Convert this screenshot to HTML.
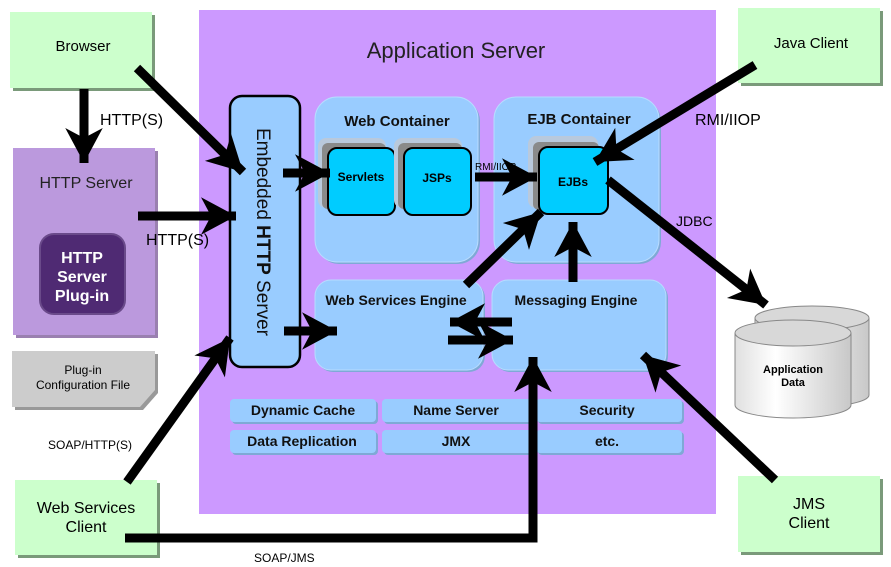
<!DOCTYPE html>
<html><head><meta charset="utf-8"><style>
body{margin:0;background:#fff;}
svg{display:block;font-family:"Liberation Sans",sans-serif;}
</style></head><body>
<svg width="891" height="567" viewBox="0 0 891 567" xmlns="http://www.w3.org/2000/svg">
<defs>
<marker id="ah" markerUnits="userSpaceOnUse" markerWidth="40" markerHeight="40" viewBox="-30 -16 32 32" refX="0" refY="0" orient="auto">
<path d="M0,0 L-28,-15 L-20,0 L-28,15 Z" fill="#000"/>
</marker>
<linearGradient id="cyl" x1="0" x2="1" y1="0" y2="0">
<stop offset="0" stop-color="#e0e0e0"/><stop offset="0.35" stop-color="#ffffff"/><stop offset="1" stop-color="#c8c8c8"/>
</linearGradient>
</defs>
<!-- Application server -->
<rect x="199" y="10" width="517" height="504" fill="#cc99ff"/>
<text x="456" y="58" font-size="22" text-anchor="middle" fill="#222">Application Server</text>

<!-- left boxes -->
<rect x="13" y="15" width="142" height="76" fill="#7a9a7a"/>
<rect x="10" y="12" width="142" height="76" fill="#ccffcc"/>
<text x="83" y="51" font-size="15" text-anchor="middle">Browser</text>

<rect x="16" y="151" width="142" height="187" fill="#9a80b0"/>
<rect x="13" y="148" width="142" height="187" fill="#bb99dd"/>
<text x="86" y="188" font-size="16" text-anchor="middle" fill="#222">HTTP Server</text>
<rect x="40" y="234" width="85" height="80" rx="14" fill="#4f2a73" stroke="#6a4a8a" stroke-width="2"/>
<text x="82" y="263" font-size="16" font-weight="bold" text-anchor="middle" fill="#fff">HTTP</text>
<text x="82" y="282" font-size="16" font-weight="bold" text-anchor="middle" fill="#fff">Server</text>
<text x="82" y="301" font-size="16" font-weight="bold" text-anchor="middle" fill="#fff">Plug-in</text>

<path d="M15,354 H158 V393 L143,410 H15 Z" fill="#999"/>
<path d="M12,351 H155 V390 L140,407 H12 Z" fill="#cccccc"/>
<text x="83" y="374" font-size="12" text-anchor="middle">Plug-in</text>
<text x="83" y="389" font-size="12" text-anchor="middle">Configuration File</text>

<rect x="18" y="483" width="142" height="75" fill="#7a9a7a"/>
<rect x="15" y="480" width="142" height="75" fill="#ccffcc"/>
<text x="86" y="513" font-size="16" text-anchor="middle">Web Services</text>
<text x="86" y="532" font-size="16" text-anchor="middle">Client</text>

<rect x="741" y="11" width="142" height="75" fill="#7a9a7a"/>
<rect x="738" y="8" width="142" height="75" fill="#ccffcc"/>
<text x="811" y="48" font-size="15" text-anchor="middle">Java Client</text>

<rect x="741" y="479" width="142" height="76" fill="#7a9a7a"/>
<rect x="738" y="476" width="142" height="76" fill="#ccffcc"/>
<text x="809" y="509" font-size="16" text-anchor="middle">JMS</text>
<text x="809" y="528" font-size="16" text-anchor="middle">Client</text>

<!-- Embedded HTTP server -->
<rect x="230" y="96" width="70" height="271" rx="12" fill="#99ccff" stroke="#000" stroke-width="2.5"/>
<text transform="translate(257,232) rotate(90)" font-size="19" text-anchor="middle" fill="#111">Embedded <tspan font-weight="bold">HTTP</tspan> Server</text>

<!-- containers -->
<rect x="317" y="99" width="163" height="165" rx="22" fill="#7fa9d6"/>
<rect x="315" y="97" width="163" height="165" rx="22" fill="#99ccff" stroke="#b8dcff"/>
<text x="397" y="126" font-size="15" font-weight="bold" text-anchor="middle" fill="#111">Web Container</text>
<rect x="496" y="99" width="165" height="165" rx="22" fill="#7fa9d6"/>
<rect x="494" y="97" width="165" height="165" rx="22" fill="#99ccff" stroke="#b8dcff"/>
<text x="579" y="124" font-size="15" font-weight="bold" text-anchor="middle" fill="#111">EJB Container</text>

<rect x="318" y="138" width="68" height="70" rx="8" fill="#b9c9dc"/>
<rect x="322" y="143" width="64" height="66" rx="6" fill="#8a8a8a"/>
<rect x="328" y="148" width="67" height="67" rx="9" fill="#00ccff" stroke="#000" stroke-width="2"/>
<text x="361" y="181" font-size="12" font-weight="bold" text-anchor="middle">Servlets</text>
<rect x="394" y="138" width="68" height="70" rx="8" fill="#b9c9dc"/>
<rect x="398" y="143" width="64" height="66" rx="6" fill="#8a8a8a"/>
<rect x="404" y="148" width="67" height="67" rx="9" fill="#00ccff" stroke="#000" stroke-width="2"/>
<text x="437" y="182" font-size="12" font-weight="bold" text-anchor="middle">JSPs</text>
<rect x="528" y="136" width="70" height="72" rx="8" fill="#b9c9dc"/>
<rect x="533" y="142" width="66" height="68" rx="6" fill="#8a8a8a"/>
<rect x="539" y="147" width="69" height="67" rx="9" fill="#00ccff" stroke="#000" stroke-width="2"/>
<text x="573" y="186" font-size="12" font-weight="bold" text-anchor="middle">EJBs</text>

<!-- engines -->
<rect x="317" y="282" width="168" height="90" rx="16" fill="#7fa9d6"/>
<rect x="315" y="280" width="168" height="90" rx="16" fill="#99ccff" stroke="#b8dcff"/>
<text x="396" y="305" font-size="14" font-weight="bold" text-anchor="middle" fill="#111">Web Services Engine</text>
<rect x="494" y="282" width="174" height="90" rx="16" fill="#7fa9d6"/>
<rect x="492" y="280" width="174" height="90" rx="16" fill="#99ccff" stroke="#b8dcff"/>
<text x="576" y="305" font-size="14" font-weight="bold" text-anchor="middle" fill="#111">Messaging Engine</text>

<!-- services -->
<g font-size="14" font-weight="bold" text-anchor="middle" fill="#111">
<rect x="232" y="401" width="146" height="23" rx="4" fill="#7fa9d6"/><rect x="230" y="399" width="146" height="23" rx="4" fill="#99ccff"/><text x="303" y="415">Dynamic Cache</text>
<rect x="384" y="401" width="151" height="23" rx="4" fill="#7fa9d6"/><rect x="382" y="399" width="151" height="23" rx="4" fill="#99ccff"/><text x="456" y="415">Name Server</text>
<rect x="538" y="401" width="146" height="23" rx="4" fill="#7fa9d6"/><rect x="536" y="399" width="146" height="23" rx="4" fill="#99ccff"/><text x="607" y="415">Security</text>
<rect x="232" y="432" width="146" height="23" rx="4" fill="#7fa9d6"/><rect x="230" y="430" width="146" height="23" rx="4" fill="#99ccff"/><text x="302" y="446">Data Replication</text>
<rect x="384" y="432" width="151" height="23" rx="4" fill="#7fa9d6"/><rect x="382" y="430" width="151" height="23" rx="4" fill="#99ccff"/><text x="456" y="446">JMX</text>
<rect x="538" y="432" width="146" height="23" rx="4" fill="#7fa9d6"/><rect x="536" y="430" width="146" height="23" rx="4" fill="#99ccff"/><text x="607" y="446">etc.</text>
</g>

<!-- database -->
<g stroke="#888" stroke-width="1">
<path d="M755,318 V395 A57,12 0 0 0 869,395 V318" fill="url(#cyl)"/>
<ellipse cx="812" cy="318" rx="57" ry="12" fill="#d8d8d8"/>
<path d="M735,333 V405 A58,13 0 0 0 851,405 V333" fill="url(#cyl)"/>
<ellipse cx="793" cy="333" rx="58" ry="13" fill="#d8d8d8"/>
</g>
<text x="793" y="373" font-size="11" font-weight="bold" text-anchor="middle">Application</text>
<text x="793" y="386" font-size="11" font-weight="bold" text-anchor="middle">Data</text>

<!-- arrows -->
<g stroke="#000" stroke-width="9" fill="none" marker-end="url(#ah)">
<line x1="84" y1="89" x2="84" y2="163"/>
<line x1="137" y1="68" x2="243" y2="172"/>
<line x1="138" y1="216" x2="236" y2="216"/>
<line x1="283" y1="173" x2="330" y2="173"/>
<line x1="475" y1="177" x2="537" y2="177"/>
<line x1="755" y1="65" x2="595" y2="162"/>
<line x1="608" y1="180" x2="766" y2="305"/>
<line x1="466" y1="285" x2="541" y2="212"/>
<line x1="573" y1="282" x2="573" y2="222"/>
<line x1="284" y1="331" x2="337" y2="331"/>
<line x1="512" y1="322" x2="450" y2="322"/>
<line x1="448" y1="340" x2="513" y2="340"/>
<line x1="127" y1="482" x2="230" y2="338"/>
<polyline points="125,538 533,538 533,357"/>
<line x1="775" y1="480" x2="643" y2="355"/>
</g>

<!-- labels -->
<text x="100" y="125" font-size="16">HTTP(S)</text>
<text x="146" y="245" font-size="16">HTTP(S)</text>
<text x="695" y="125" font-size="16">RMI/IIOP</text>
<text x="676" y="226" font-size="14">JDBC</text>
<text x="475" y="170" font-size="10">RMI/IIOP</text>
<text x="48" y="449" font-size="12">SOAP/HTTP(S)</text>
<text x="254" y="562" font-size="12">SOAP/JMS</text>
</svg>
</body></html>
